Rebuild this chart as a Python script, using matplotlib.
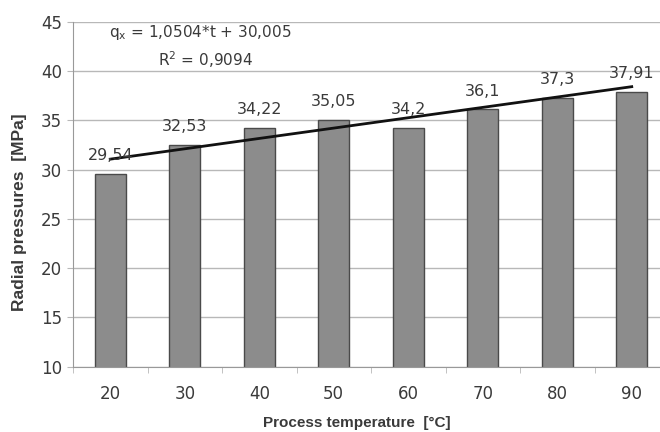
import matplotlib
matplotlib.use("Agg")
import matplotlib.pyplot as plt
import numpy as np

# Radial pressure measured at each process temperature
temperatures = ["20", "30", "40", "50", "60", "70", "80", "90"]
pressures = [29.54, 32.53, 34.22, 35.05, 34.20, 36.10, 37.30, 37.91]
value_labels = ["29,54", "32,53", "34,22", "35,05", "34,2", "36,1", "37,3", "37,91"]

# Linear trend q = a*t + b (t = sample index 1..8)
slope = 1.0504
intercept = 30.005
r_squared_text = "0,9094"

y_ticks = [10, 15, 20, 25, 30, 35, 40, 45]

plt.rcParams["font.family"] = ["DejaVu Sans"]
plt.rcParams["mathtext.default"] = "regular"

text_color = "#3a3a3a"
grid_color = "#b8b8b8"
label_font = ["Liberation Sans", "DejaVu Sans"]

fig = plt.figure(figsize=(6.6, 4.32), dpi=100)
ax = fig.add_axes([73 / 660, 65.3 / 432, 596 / 660, 345 / 432])

x = np.arange(len(temperatures))
ax.bar(x, pressures, width=0.42, color="#8c8c8c", edgecolor="#4a4a4a",
       linewidth=1.0, zorder=2)

for xi, val, lab in zip(x, pressures, value_labels):
    ax.text(xi, val + 1.85, lab, ha="center", va="center", fontsize=11.5,
            color=text_color, zorder=4)

idx = np.arange(1, len(temperatures) + 1)
trend = slope * idx + intercept
ax.plot(x, trend, color="#111111", linewidth=2.0, zorder=3)

ax.text(1.21, 43.95, r"q$_{x}$ = 1,0504*t + 30,005", ha="center", va="center",
        fontsize=11, color=text_color)
ax.text(1.28, 41.1, "R$^{2}$ = " + r_squared_text, ha="center", va="center",
        fontsize=11, color=text_color)

ax.set_xlim(-0.5, 7.5)
ax.set_ylim(10, 45)
ax.set_yticks(y_ticks)
ax.set_yticklabels([str(t) for t in y_ticks], fontsize=12, color=text_color)
ax.set_xticks(x)
ax.set_xticklabels(temperatures, fontsize=12, color=text_color)
ax.set_xticks(np.arange(-0.5, 7.6, 1.0), minor=True)
ax.tick_params(axis="x", which="major", length=0, pad=13)
ax.tick_params(axis="x", which="minor", length=4, color=grid_color)
ax.tick_params(axis="y", length=4, color=grid_color, pad=4)

ax.yaxis.grid(True, color=grid_color, linewidth=1.0, zorder=0)
ax.set_axisbelow(True)
for side in ("top", "right"):
    ax.spines[side].set_visible(False)
ax.spines["left"].set_color("#999999")
ax.spines["bottom"].set_color("#999999")

ax.set_xlabel("Process temperature  [°C]", fontsize=11, fontweight="bold",
              color=text_color, family=label_font, va="center")
ax.set_ylabel("Radial pressures  [MPa]", fontsize=12.5, fontweight="bold",
              color=text_color, family=label_font)
ax.xaxis.set_label_coords(0.4765, -0.163)
ax.yaxis.set_label_coords(-0.077, 0.448)

fig.savefig("out.png", dpi=100)
